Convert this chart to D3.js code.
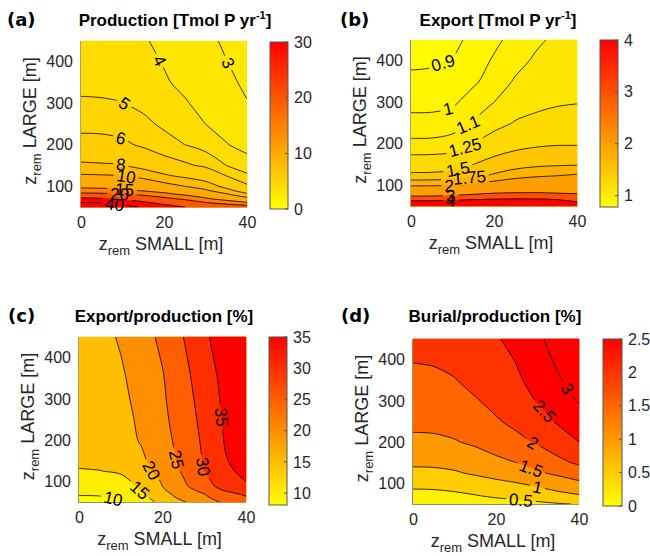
<!DOCTYPE html>
<html>
<head>
<meta charset="utf-8">
<script src="https://cdn.jsdelivr.net/npm/d3@7"></script>
<style>
  body { margin: 0; background: #fff; }
  svg { font-family: "Liberation Sans", Arial, sans-serif; }
</style>
</head>
<body>
<svg id="fig" width="650" height="556"></svg>
<script>
// grid of the model runs: z_rem SMALL (columns) and z_rem LARGE (rows, top to bottom)
const zSmall = [0, 5, 10, 15, 20, 25, 30, 35, 40];
const zLarge = [450, 400, 350, 300, 250, 200, 150, 125, 100, 90, 80, 70, 60, 50];

// (a) Production [Tmol P yr-1]
const production = [
  [4.4, 4.35, 4.25, 4.08, 3.8, 3.5, 3.2, 2.88, 2.6],
  [4.6, 4.55, 4.45, 4.25, 3.95, 3.65, 3.35, 3.02, 2.75],
  [4.8, 4.78, 4.7, 4.5, 4.1, 3.8, 3.45, 3.15, 2.88],
  [5.1, 5.08, 5.02, 4.8, 4.45, 4.08, 3.72, 3.35, 3.03],
  [5.6, 5.58, 5.45, 5.2, 4.85, 4.45, 4.0, 3.65, 3.35],
  [6.5, 6.45, 6.25, 5.8, 5.35, 5.0, 4.6, 4.05, 3.7],
  [8.3, 8.2, 8.1, 7.3, 6.6, 6.2, 5.8, 5.0, 4.4],
  [10.3, 10.2, 10.05, 9.3, 8.3, 7.6, 7.0, 6.0, 5.2],
  [14, 13.8, 13.2, 12, 10.9, 10, 8.9, 7.5, 6.2],
  [16.5, 16.3, 15.8, 14.4, 13, 11.8, 10.3, 8.5, 7.0],
  [22, 21.6, 20.8, 19, 16.5, 14.5, 12.6, 10.4, 8.4],
  [32, 31, 28.5, 24.5, 21.5, 18.8, 15.6, 13, 10.8],
  [41, 40, 37, 32, 27.5, 24, 20.5, 18, 15.6],
  [46, 45, 43, 39, 34, 30, 27, 25, 23]
];
const productionLevels = [3, 4, 5, 6, 8, 10, 15, 20, 30, 40];
const productionBarTicks = [0, 10, 20, 30];

// (b) Export [Tmol P yr-1]
const exportP = [
  [0.83, 0.84, 0.87, 0.93, 0.98, 1.03, 1.08, 1.12, 1.15],
  [0.88, 0.885, 0.905, 0.96, 1.01, 1.065, 1.115, 1.15, 1.17],
  [0.925, 0.93, 0.95, 0.985, 1.04, 1.11, 1.16, 1.19, 1.2],
  [0.97, 0.972, 0.985, 1.04, 1.1, 1.17, 1.21, 1.235, 1.245],
  [1.03, 1.03, 1.045, 1.11, 1.19, 1.26, 1.29, 1.305, 1.31],
  [1.125, 1.127, 1.15, 1.25, 1.34, 1.42, 1.46, 1.48, 1.48],
  [1.36, 1.365, 1.39, 1.5, 1.6, 1.66, 1.7, 1.72, 1.73],
  [1.54, 1.545, 1.58, 1.68, 1.77, 1.86, 1.93, 1.97, 2.02],
  [1.96, 1.97, 1.99, 2.06, 2.15, 2.25, 2.3, 2.3, 2.25],
  [2.2, 2.2, 2.25, 2.35, 2.45, 2.55, 2.58, 2.55, 2.45],
  [2.7, 2.7, 2.75, 2.9, 3.05, 3.12, 3.12, 3.05, 2.98],
  [3.2, 3.2, 3.3, 3.45, 3.6, 3.7, 3.7, 3.6, 3.45],
  [4.3, 4.3, 4.4, 4.6, 4.75, 4.8, 4.75, 4.5, 4.0],
  [5.0, 5.0, 5.1, 5.3, 5.5, 5.6, 5.5, 5.2, 4.8]
];
const exportLevels = [0.9, 1, 1.1, 1.25, 1.5, 1.75, 2, 3, 4];
const exportBarTicks = [1, 2, 3, 4];

// (c) Export/production [%]
const exportRatio = [
  [16.5, 18.2, 20.6, 23.2, 26.0, 30.0, 34.2, 37.5, 40],
  [16.4, 18.0, 19.9, 22.6, 25.3, 29.2, 33.5, 36.9, 39.5],
  [16.2, 17.6, 19.4, 21.8, 24.7, 28.4, 32.8, 36.3, 39],
  [16.0, 17.3, 19.0, 21.3, 24.4, 27.8, 32.2, 36.0, 38.5],
  [15.8, 17.0, 18.6, 20.8, 24.0, 27.3, 31.5, 35.6, 38],
  [15.6, 16.7, 18.2, 20.4, 23.4, 26.8, 30.9, 35.3, 37.5],
  [15.3, 16.2, 17.4, 19.2, 22.5, 26.1, 30.4, 34.7, 36.8],
  [14.9, 14.9, 15.6, 18.2, 21.8, 25.6, 30.0, 34.1, 36.1],
  [12.5, 12.6, 13.6, 16.5, 20.4, 24.6, 28.8, 32.3, 35],
  [11.8, 11.9, 12.9, 16.0, 20.1, 24.2, 28.4, 31.9, 34],
  [11.1, 11.2, 12.1, 15.3, 19.5, 23.4, 26.6, 30.8, 32.8],
  [10.4, 10.5, 11.4, 14.5, 18.5, 22.2, 25.0, 28.4, 31],
  [9.5, 9.6, 10.5, 13.5, 17.5, 21.3, 24.3, 26.8, 29.3],
  [8.1, 8.2, 9.2, 12.6, 16.5, 19.6, 23.3, 25.6, 28]
];
const exportRatioLevels = [10, 15, 20, 25, 30, 35];
const exportRatioBarTicks = [10, 15, 20, 25, 30, 35];

// (d) Burial/production [%]
const burialRatio = [
  [2.12, 2.14, 2.22, 2.32, 2.46, 2.64, 2.9, 3.22, 3.55],
  [2.02, 2.04, 2.12, 2.24, 2.38, 2.52, 2.76, 3.1, 3.42],
  [1.9, 1.92, 1.98, 2.14, 2.3, 2.45, 2.62, 2.94, 3.25],
  [1.77, 1.78, 1.84, 1.96, 2.13, 2.32, 2.52, 2.76, 3.04],
  [1.6, 1.61, 1.67, 1.8, 1.95, 2.12, 2.32, 2.55, 2.78],
  [1.41, 1.42, 1.47, 1.57, 1.72, 1.87, 2.05, 2.27, 2.5],
  [1.08, 1.09, 1.14, 1.25, 1.38, 1.5, 1.67, 1.88, 2.07],
  [0.88, 0.89, 0.95, 1.06, 1.18, 1.3, 1.44, 1.59, 1.75],
  [0.62, 0.63, 0.68, 0.78, 0.88, 0.98, 1.1, 1.25, 1.41],
  [0.53, 0.54, 0.58, 0.66, 0.76, 0.87, 0.98, 1.12, 1.27],
  [0.45, 0.46, 0.5, 0.57, 0.66, 0.76, 0.87, 0.99, 1.12],
  [0.38, 0.39, 0.42, 0.48, 0.56, 0.65, 0.75, 0.85, 0.95],
  [0.3, 0.31, 0.33, 0.38, 0.44, 0.49, 0.56, 0.65, 0.75],
  [0.15, 0.16, 0.18, 0.22, 0.28, 0.34, 0.41, 0.47, 0.52]
];
const burialRatioLevels = [0.5, 1, 1.5, 2, 2.5, 3];
const burialRatioBarTicks = [0, 0.5, 1, 1.5, 2, 2.5];

const xTicks = [0, 20, 40];
const yTicks = [100, 200, 300, 400];

const panels = [
  { id: "a", letter: "(a)", title: ["Production [Tmol P yr", "-1", "]"],
    data: production, levels: productionLevels, cDomain: [0, 30], cTicks: productionBarTicks,
    labelX: [35.5, 19, 10.5, 9.6, 9.6, 10.9, 10.5, 9.3, null, 8.1],
    plot: { x: 81, y: 41, w: 166, h: 166 }, bar: { x: 270, y: 42, w: 18, h: 167 },
    titleX: 175, top: 26, letterX: 7 },
  { id: "b", letter: "(b)", title: ["Export [Tmol P yr", "-1", "]"],
    data: exportP, levels: exportLevels, cDomain: [0.78, 4], cTicks: exportBarTicks,
    labelX: [7.7, 8.9, 13.7, 13, 11.3, 14.1, 9.2, 9.6, 9.5],
    plot: { x: 411, y: 40, w: 166, h: 166 }, bar: { x: 600, y: 40, w: 18, h: 167 },
    titleX: 498, top: 26, letterX: 340 },
  { id: "c", letter: "(c)", title: ["Export/production [%]"],
    data: exportRatio, levels: exportRatioLevels, cDomain: [8.1, 35], cTicks: exportRatioBarTicks,
    labelX: [8.2, 14.6, 17.4, 23.4, 29.8, 34.2],
    plot: { x: 79, y: 337, w: 167, h: 165 }, bar: { x: 269, y: 337, w: 18, h: 168 },
    titleX: 164, top: 322, letterX: 8 },
  { id: "d", letter: "(d)", title: ["Burial/production [%]"],
    data: burialRatio, levels: burialRatioLevels, cDomain: [0, 2.5], cTicks: burialRatioBarTicks,
    labelX: [26, 30, 28.5, 28.9, 31.7, 37.3],
    plot: { x: 413, y: 339, w: 166, h: 165 }, bar: { x: 603, y: 339, w: 19, h: 167 },
    titleX: 495, top: 322, letterX: 341 }
];

const svg = d3.select("#fig");
const defs = svg.append("defs");
const textColor = "#262626";

panels.forEach(drawPanel);

function drawPanel(p) {
  const nx = zSmall.length, ny = zLarge.length;
  const x = d3.scaleLinear().domain([0, 40]).range([p.plot.x, p.plot.x + p.plot.w]);
  const y = d3.scaleLinear().domain([50, 450]).range([p.plot.y + p.plot.h, p.plot.y]);
  // grid index -> data value (rows are not evenly spaced)
  const gx = d3.scaleLinear().domain(d3.range(nx)).range(zSmall).clamp(true);
  const gy = d3.scaleLinear().domain(d3.range(ny)).range(zLarge).clamp(true);
  const toPx = pt => [x(gx(pt[0] - 0.5)), y(gy(pt[1] - 0.5))];

  const values = p.data.flat();
  const cNorm = d3.scaleLinear().domain(p.cDomain).range([0, 1]).clamp(true);
  const color = v => d3.rgb(255, Math.round(255 * (1 - cNorm(v))), 0).formatHex();

  // axis lines (MATLAB draws them under the data)
  svg.append("path")
    .attr("d", `M${p.plot.x - 0.5},${p.plot.y}V${p.plot.y + p.plot.h + 0.5}H${p.plot.x + p.plot.w}`)
    .attr("fill", "none").attr("stroke", "#8a8a8a").attr("stroke-width", 1);

  // filled contours
  const bands = d3.contours().size([nx, ny]).thresholds(p.levels)(values);
  const g = svg.append("g");
  g.append("rect")
    .attr("x", p.plot.x).attr("y", p.plot.y).attr("width", p.plot.w).attr("height", p.plot.h)
    .attr("fill", color(d3.min(values)));
  g.selectAll("path.band").data(bands).join("path")
    .attr("class", "band")
    .attr("fill-rule", "evenodd")
    .attr("fill", b => color(b.value))
    .attr("stroke", b => color(b.value)).attr("stroke-width", 0.3)
    .attr("d", b => b.coordinates.map(poly => poly.map(ring =>
      "M" + ring.map(pt => toPx(pt).join(",")).join("L") + "Z").join("")).join(""));

  // contour lines: drop the pieces that run along the grid border
  const onSameEdge = (a, b) =>
    (a[0] <= 0.5 && b[0] <= 0.5) || (a[0] >= nx - 0.5 && b[0] >= nx - 0.5) ||
    (a[1] <= 0.5 && b[1] <= 0.5) || (a[1] >= ny - 0.5 && b[1] >= ny - 0.5);
  function splitRing(ring) {
    const n = ring.length - 1;
    let start = -1;
    for (let i = 0; i < n; i++) if (onSameEdge(ring[i], ring[i + 1])) { start = i + 1; break; }
    if (start < 0) return [ring.slice()];
    const out = [];
    let cur = [];
    for (let k = 0; k < n; k++) {
      const i = (start + k) % n, j = (i + 1) % n;
      if (onSameEdge(ring[i], ring[j])) {
        if (cur.length > 1) out.push(cur);
        cur = [];
      } else {
        if (!cur.length) cur.push(ring[i]);
        cur.push(ring[j]);
      }
    }
    if (cur.length > 1) out.push(cur);
    return out;
  }
  const lines = [];
  bands.forEach(b => b.coordinates.forEach(poly => poly.forEach(ring =>
    splitRing(ring).forEach(l => lines.push({ value: b.value, pts: l.map(toPx) })))));

  // inline labels
  const labelSize = 17;
  const labels = [];
  p.levels.forEach((lev, k) => {
    const lx = p.labelX[k];
    if (lx == null) return;
    const tx = x(lx);
    for (const l of lines.filter(d => d.value === lev)) {
      const pts = l.pts;
      let found = null;
      for (let i = 0; i < pts.length - 1 && !found; i++) {
        const a = pts[i], b = pts[i + 1];
        if ((a[0] - tx) * (b[0] - tx) <= 0 && a[0] !== b[0]) {
          const t = (tx - a[0]) / (b[0] - a[0]);
          const i0 = Math.max(0, i - 1), i1 = Math.min(pts.length - 1, i + 2);
          let ang = Math.atan2(pts[i1][1] - pts[i0][1], pts[i1][0] - pts[i0][0]) * 180 / Math.PI;
          if (ang > 90) ang -= 180;
          if (ang < -90) ang += 180;
          found = { x: tx, y: a[1] + t * (b[1] - a[1]), ang, text: d3.format("")(lev) };
        }
      }
      if (found) { labels.push(found); break; }
    }
  });

  const maskId = "mask-" + p.id;
  const mask = defs.append("mask").attr("id", maskId).attr("maskUnits", "userSpaceOnUse")
    .attr("x", p.plot.x - 5).attr("y", p.plot.y - 5).attr("width", p.plot.w + 10).attr("height", p.plot.h + 10);
  mask.append("rect")
    .attr("x", p.plot.x - 5).attr("y", p.plot.y - 5).attr("width", p.plot.w + 10).attr("height", p.plot.h + 10)
    .attr("fill", "#fff");

  const labelG = svg.append("g");
  labels.forEach(lb => {
    const t = labelG.append("text")
      .attr("transform", `translate(${lb.x},${lb.y}) rotate(${lb.ang})`)
      .attr("text-anchor", "middle").attr("dy", "0.36em")
      .attr("font-size", labelSize).attr("fill", "#000")
      .text(lb.text);
    const w = t.node().getComputedTextLength() + 6;
    mask.append("rect")
      .attr("x", -w / 2).attr("y", -labelSize * 0.45).attr("width", w).attr("height", labelSize * 0.9)
      .attr("transform", `translate(${lb.x},${lb.y}) rotate(${lb.ang})`)
      .attr("fill", "#000");
  });

  const clipId = "clip-" + p.id;
  defs.append("clipPath").attr("id", clipId).append("rect")
    .attr("x", p.plot.x).attr("y", p.plot.y).attr("width", p.plot.w).attr("height", p.plot.h);

  const lineGen = d3.line().curve(d3.curveCatmullRom.alpha(0.5));
  svg.insert("g", () => labelG.node())
    .attr("clip-path", `url(#${clipId})`)
    .append("g")
    .attr("mask", `url(#${maskId})`)
    .selectAll("path").data(lines).join("path")
    .attr("d", l => lineGen(l.pts))
    .attr("fill", "none").attr("stroke", "#000").attr("stroke-width", 0.8);

  // axes
  const xAxis = svg.append("g")
    .attr("transform", `translate(0,${p.plot.y + p.plot.h})`)
    .call(d3.axisBottom(x).tickValues(xTicks).tickSize(0).tickPadding(10));
  const yAxis = svg.append("g")
    .attr("transform", `translate(${p.plot.x},0)`)
    .call(d3.axisLeft(y).tickValues(yTicks).tickSize(0).tickPadding(8));
  [xAxis, yAxis].forEach(a => {
    a.select(".domain").remove();
    a.attr("font-size", 16).attr("font-family", null);
    a.selectAll("text").attr("fill", textColor);
  });

  // axis titles
  const xl = svg.append("text")
    .attr("x", p.plot.x + p.plot.w / 2 - 3).attr("y", p.plot.y + p.plot.h + 43)
    .attr("text-anchor", "middle").attr("font-size", 18).attr("fill", textColor);
  xl.append("tspan").text("z");
  xl.append("tspan").attr("font-size", 13).attr("dy", 5).text("rem");
  xl.append("tspan").attr("dy", -5).text(" SMALL [m]");

  const yl = svg.append("text")
    .attr("transform", `translate(${p.plot.x - 45},${p.plot.y + p.plot.h / 2 - 3}) rotate(-90)`)
    .attr("text-anchor", "middle").attr("font-size", 18).attr("fill", textColor);
  yl.append("tspan").text("z");
  yl.append("tspan").attr("font-size", 13).attr("dy", 5).text("rem");
  yl.append("tspan").attr("dy", -5).text(" LARGE [m]");

  // title and panel letter
  const tt = svg.append("text")
    .attr("x", p.titleX).attr("y", p.top)
    .attr("text-anchor", "middle").attr("font-size", 17).attr("font-weight", "bold").attr("fill", "#000");
  tt.append("tspan").text(p.title[0]);
  if (p.title.length > 1) {
    tt.append("tspan").attr("font-size", 11).attr("dy", -7).text(p.title[1]);
    tt.append("tspan").attr("dy", 7).text(p.title[2]);
  }
  svg.append("text")
    .attr("x", p.letterX).attr("y", p.top)
    .attr("font-family", "'DejaVu Sans', sans-serif").attr("font-weight", "bold")
    .attr("font-size", 18).attr("fill", "#000")
    .text(p.letter);

  // colorbar
  const cy = d3.scaleLinear().domain(p.cDomain).range([p.bar.y + p.bar.h, p.bar.y]);
  const gradId = "grad-" + p.id;
  const grad = defs.append("linearGradient").attr("id", gradId)
    .attr("x1", 0).attr("y1", 1).attr("x2", 0).attr("y2", 0);
  grad.append("stop").attr("offset", 0).attr("stop-color", color(p.cDomain[0]));
  grad.append("stop").attr("offset", 1).attr("stop-color", color(p.cDomain[1]));
  svg.append("rect")
    .attr("x", p.bar.x).attr("y", p.bar.y).attr("width", p.bar.w).attr("height", p.bar.h)
    .attr("fill", `url(#${gradId})`).attr("stroke", "#555").attr("stroke-width", 1);
  svg.append("g").selectAll("line").data(p.cTicks).join("line")
    .attr("x1", p.bar.x + p.bar.w - 3).attr("x2", p.bar.x + p.bar.w)
    .attr("y1", d => cy(d)).attr("y2", d => cy(d))
    .attr("stroke", "#555").attr("stroke-width", 1);
  const cAxis = svg.append("g")
    .attr("transform", `translate(${p.bar.x + p.bar.w},0)`)
    .call(d3.axisRight(cy).tickValues(p.cTicks).tickSize(0).tickPadding(6).tickFormat(d3.format("")));
  cAxis.select(".domain").remove();
  cAxis.attr("font-size", 16).attr("font-family", null);
  cAxis.selectAll("text").attr("fill", textColor);
}
</script>
</body>
</html>
